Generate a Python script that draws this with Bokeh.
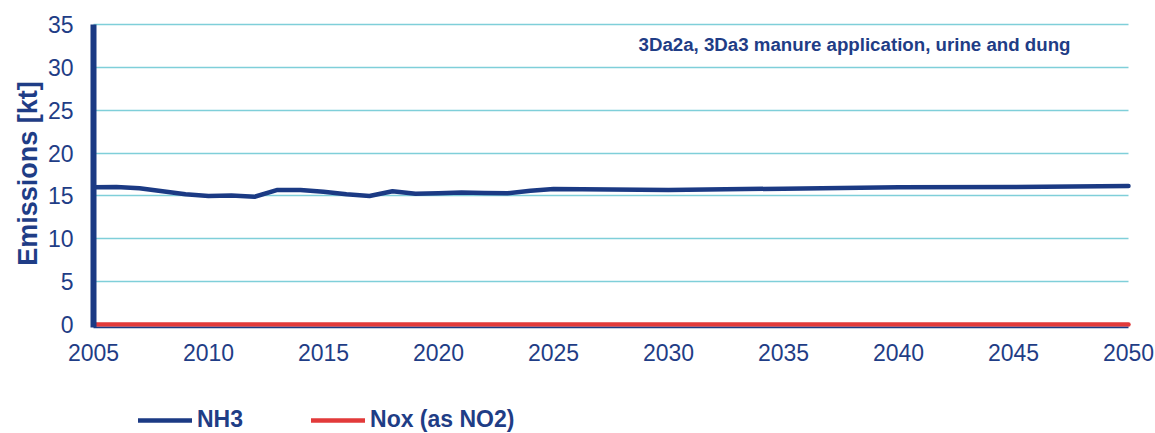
import math
from bokeh.plotting import figure
from bokeh.models import (ColumnDataSource, FixedTicker, Range1d, Label, Legend,
                          LegendItem)
from bokeh.embed import file_html
from bokeh.resources import INLINE

# ---- data ----
years = [2005, 2006, 2007, 2008, 2009, 2010, 2011, 2012, 2013, 2014, 2015,
         2016, 2017, 2018, 2019, 2020, 2021, 2022, 2023, 2024, 2025,
         2030, 2035, 2040, 2045, 2050]
nh3 = [16.0, 16.05, 15.9, 15.55, 15.2, 15.0, 15.05, 14.9, 15.7, 15.7, 15.5,
       15.2, 15.0, 15.55, 15.25, 15.3, 15.4, 15.35, 15.3, 15.6, 15.8,
       15.7, 15.85, 16.0, 16.05, 16.15]
nox = [0.0, 0.0, 0.0, 0.0, 0.0, 0.0, 0.0, 0.0, 0.0, 0.0, 0.0,
       0.0, 0.0, 0.0, 0.0, 0.0, 0.0, 0.0, 0.0, 0.0, 0.0,
       0.0, 0.0, 0.0, 0.0, 0.0]
x_ticks = [2005, 2010, 2015, 2020, 2025, 2030, 2035, 2040, 2045, 2050]
y_ticks = [0, 5, 10, 15, 20, 25, 30, 35]
series_names = ["NH3", "Nox (as NO2)"]
chart_note = "3Da2a, 3Da3 manure application, urine and dung"
y_title = "Emissions [kt]"

NAVY = "#1b3a84"
TEXT = "#1f3d86"
RED = "#e23a3a"
GRID = "#7fcfd9"
FONT = "Liberation Sans"

src = ColumnDataSource(dict(year=years, nh3=nh3, nox=nox))

# The frame covers the whole canvas; both axes are pinned at data positions so
# that tick labels, legend and texts can sit around the plotted area.
p = figure(width=1155, height=433, output_backend="svg", toolbar_location=None,
           x_range=Range1d(2000.957, 2051.174), y_range=Range1d(-12.717, 37.8),
           min_border=0)
p.title.visible = False
p.outline_line_color = None
p.background_fill_color = "white"
p.border_fill_color = "white"

# axes
p.xaxis.ticker = FixedTicker(ticks=x_ticks)
p.yaxis.ticker = FixedTicker(ticks=y_ticks)
for ax in (p.xaxis[0], p.yaxis[0]):
    ax.major_tick_line_color = None
    ax.minor_tick_line_color = None
    ax.major_label_text_font = FONT
    ax.major_label_text_font_size = "23px"
    ax.major_label_text_color = TEXT
p.yaxis.fixed_location = 2005
p.yaxis.bounds = (-0.4, 35)
p.yaxis.axis_line_color = NAVY
p.yaxis.axis_line_width = 6
p.yaxis.major_label_standoff = 14
p.xaxis.fixed_location = -0.4
p.xaxis.bounds = (2005, 2050)
p.xaxis.axis_line_color = NAVY
p.xaxis.axis_line_width = 1.5
p.xaxis.major_label_standoff = 10

# grid
p.xgrid.grid_line_color = None
p.ygrid.ticker = FixedTicker(ticks=y_ticks)
p.ygrid.cross_bounds = (2005, 2050)
p.ygrid.grid_line_color = GRID
p.ygrid.grid_line_width = 1.5

r1 = p.line("year", "nh3", source=src, line_color=NAVY, line_width=4.5,
            line_join="round", line_cap="round")
r2 = p.line("year", "nox", source=src, line_color=RED, line_width=4.5,
            line_join="round", line_cap="round")

ytitle = Label(x=27, y=260, x_units="screen", y_units="screen", text=y_title,
               angle=math.pi / 2, text_align="center", text_baseline="middle",
               text_font=FONT, text_font_size="27px", text_font_style="bold",
               text_color=TEXT)
p.add_layout(ytitle)

note = Label(x=638, y=389, x_units="screen", y_units="screen", text=chart_note,
             text_font=FONT, text_font_size="18.7px", text_font_style="bold",
             text_color=TEXT, text_baseline="alphabetic")
p.add_layout(note)

legend = Legend(items=[LegendItem(label=series_names[0], renderers=[r1]),
                       LegendItem(label=series_names[1], renderers=[r2])],
                location=(138, 0), orientation="horizontal",
                glyph_width=54, glyph_height=20, label_height=20,
                label_standoff=5, spacing=68, padding=0, margin=0,
                border_line_color=None, background_fill_alpha=0,
                label_text_font=FONT, label_text_font_size="23px",
                label_text_font_style="bold", label_text_color=TEXT)
p.add_layout(legend, "center")

open("out.html", "w").write(file_html(p, INLINE))
